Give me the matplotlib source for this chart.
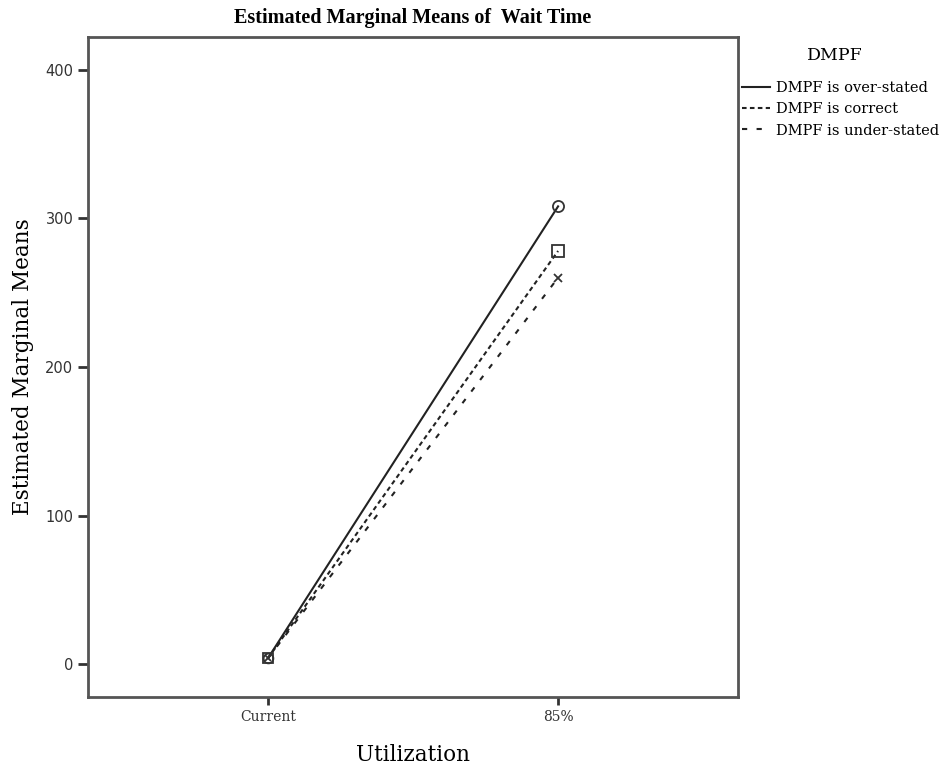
import matplotlib
matplotlib.use("Agg")
import matplotlib.pyplot as plt
from matplotlib.lines import Line2D

categories = ["Current", "85%"]
over_stated = [4, 308]
correct = [4, 278]
under_stated = [4, 260]
series_names = ["DMPF is over-stated", "DMPF is correct", "DMPF is under-stated"]

fig = plt.figure(figsize=(9.43, 7.72), dpi=100)
ax = fig.add_axes([0.0933, 0.0972, 0.6893, 0.855])

x = list(range(len(categories)))
styles = [
    dict(ls="-", marker="o"),
    dict(ls=(0, (2.2, 1.6)), marker="s"),
    dict(ls=(0, (2.5, 4.5)), marker="x"),
]
for vals, st in zip([over_stated, correct, under_stated], styles):
    ax.plot(x, vals, color="#222222", lw=1.5, ls=st["ls"])
    ax.plot(x[1], vals[1], marker=st["marker"], ms=8 if st["marker"] != "x" else 6,
            mfc="none", mec="#333333", mew=1.3, ls="none")
# overlapping markers at "Current"
for m in ["o", "s", "x"]:
    ax.plot(x[0], over_stated[0], marker=m, ms=7 if m != "x" else 5,
            mfc="none", mec="#333333", mew=1.3, ls="none")

ax.set_xlim(-0.62, 1.62)
ax.set_ylim(-22, 422)
ax.set_xticks(x)
ax.set_xticklabels(categories, fontsize=10, family="DejaVu Serif")
ax.set_yticks([0, 100, 200, 300, 400])
ax.tick_params(axis="y", direction="out", length=7, width=2, labelsize=10.5, colors="#333333")
ax.tick_params(axis="x", direction="out", length=6, width=2, labelsize=10, colors="#333333")
for sp in ax.spines.values():
    sp.set_linewidth(2)
    sp.set_color("#555555")

ax.set_title("Estimated Marginal Means of  Wait Time", fontsize=14.5, fontweight="bold",
             family="Liberation Serif", pad=10)
ax.set_ylabel("Estimated Marginal Means", fontsize=15.5, family="DejaVu Serif", labelpad=8)
ax.set_xlabel("Utilization", fontsize=15.5, family="DejaVu Serif", labelpad=14)

fig.text(835 / 943, 1 - 55 / 772, "DMPF", ha="center", va="center",
         fontsize=12.5, family="DejaVu Serif")
handles = [Line2D([0], [0], color="#222222", lw=1.5, ls=st["ls"]) for st in styles]
leg = fig.legend(handles, series_names, loc="upper left",
                 bbox_to_anchor=(0.787, 1 - 81 / 772),
                 frameon=False, handlelength=1.9, handletextpad=0.4,
                 labelspacing=0.5, borderaxespad=0, borderpad=0,
                 prop={"family": "DejaVu Serif", "size": 10.5})

fig.savefig("out.png", dpi=100)
